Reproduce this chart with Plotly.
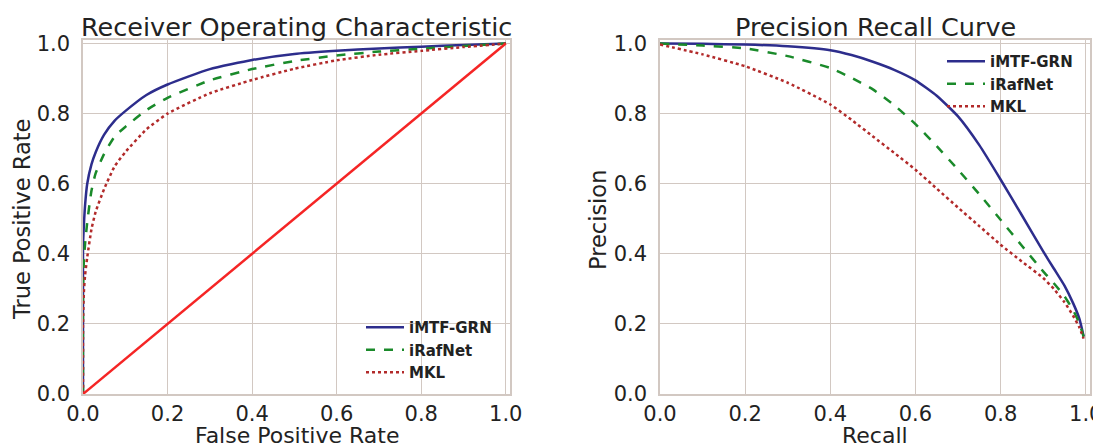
import plotly.graph_objects as go

# ---------------- data ----------------
roc_fpr = [0.0, 0.0, 0.002, 0.005, 0.01, 0.02, 0.03, 0.05, 0.075, 0.1, 0.15, 0.2,
           0.3, 0.4, 0.5, 0.6, 0.7, 0.8, 0.9, 1.0]
roc_imtf = [0.0, 0.42, 0.48, 0.54, 0.60, 0.655, 0.69, 0.74, 0.78, 0.807, 0.853, 0.883,
            0.927, 0.953, 0.970, 0.979, 0.986, 0.991, 0.996, 1.0]
roc_iraf = [0.0, 0.30, 0.38, 0.43, 0.49, 0.58, 0.63, 0.685, 0.735, 0.762, 0.81, 0.845,
            0.895, 0.927, 0.950, 0.966, 0.977, 0.985, 0.993, 1.0]
roc_mkl = [0.0, 0.20, 0.29, 0.34, 0.39, 0.47, 0.52, 0.585, 0.65, 0.69, 0.755, 0.80,
           0.858, 0.896, 0.928, 0.952, 0.968, 0.979, 0.99, 1.0]
chance = [0.0, 1.0]

pr_recall = [0.0, 0.1, 0.2, 0.3, 0.4, 0.45, 0.5, 0.55, 0.6, 0.65, 0.7, 0.75, 0.8,
             0.85, 0.9, 0.925, 0.95, 0.97, 0.985, 0.995]
pr_imtf = [1.0, 0.999, 0.997, 0.992, 0.981, 0.967, 0.948, 0.925, 0.895, 0.851, 0.792,
           0.710, 0.612, 0.510, 0.407, 0.358, 0.309, 0.260, 0.215, 0.165]
pr_iraf = [1.0, 0.994, 0.986, 0.964, 0.930, 0.902, 0.869, 0.824, 0.770, 0.707, 0.640,
           0.570, 0.497, 0.423, 0.350, 0.316, 0.279, 0.240, 0.202, 0.163]
pr_mkl = [0.997, 0.969, 0.935, 0.888, 0.826, 0.782, 0.735, 0.688, 0.640, 0.586, 0.532,
          0.479, 0.426, 0.378, 0.331, 0.300, 0.262, 0.224, 0.190, 0.158]

names = ["iMTF-GRN", "iRafNet", "MKL"]
x_ticks = [0.0, 0.2, 0.4, 0.6, 0.8, 1.0]
tick_text = ["0.0", "0.2", "0.4", "0.6", "0.8", "1.0"]

# ---------------- style ----------------
OFF = 8                      # default page body margin
W, H = 1101 - OFF, 448 - OFF
C_BLUE = "#2d2d8c"
C_GREEN = "#1a8a2a"
C_RED = "#b22a2a"
C_DIAG = "#f52525"
GRID = "#d2c8c2"
TXT = "#222222"
FONT = "DejaVu Sans"

def px_x(p):   # screen pixel -> paper fraction
    return (p - OFF) / W

def px_y(p):
    return 1 - (p - OFF) / H

fig = go.Figure()

styles = [(C_BLUE, "solid"), (C_GREEN, "dash"), (C_RED, "dot")]
for name, ys, (c, d) in zip(names, [roc_imtf, roc_iraf, roc_mkl], styles):
    fig.add_trace(go.Scatter(x=roc_fpr, y=ys, mode="lines", name=name,
                             line=dict(color=c, width=2.5, dash=d, shape="spline", smoothing=0.5),
                             xaxis="x", yaxis="y", legend="legend"))
fig.add_trace(go.Scatter(x=chance, y=chance, mode="lines", showlegend=False,
                         line=dict(color=C_DIAG, width=2.5), xaxis="x", yaxis="y"))

for name, ys, (c, d) in zip(names, [pr_imtf, pr_iraf, pr_mkl], styles):
    fig.add_trace(go.Scatter(x=pr_recall, y=ys, mode="lines", name=name,
                             line=dict(color=c, width=2.5, dash=d, shape="spline", smoothing=0.5),
                             xaxis="x2", yaxis="y2", legend="legend2"))

axis_common = dict(range=[0, 1.01], tickvals=x_ticks, ticktext=tick_text,
                   showgrid=True, gridcolor=GRID, gridwidth=1.2,
                   showline=True, linecolor=GRID, linewidth=1.5, mirror=True,
                   zeroline=False, ticks="", ticklen=0, automargin=False,
                   ticklabeloverflow="allow",
                   tickfont=dict(family=FONT, size=21, color=TXT))

PX0, PX1 = 83, 510
QX0, QX1 = 660, 1090
PY0, PY1 = 40, 394

fig.update_layout(
    width=W, height=H,
    margin=dict(l=0, r=0, t=0, b=0),
    paper_bgcolor="white", plot_bgcolor="white",
    xaxis=dict(domain=[px_x(PX0), px_x(PX1)], anchor="y", ticklabelstandoff=0, **axis_common),
    yaxis=dict(domain=[px_y(PY1), px_y(PY0)], anchor="x", ticklabelstandoff=7, **axis_common),
    xaxis2=dict(domain=[px_x(QX0), px_x(QX1)], anchor="y2", ticklabelstandoff=0, **axis_common),
    yaxis2=dict(domain=[px_y(PY1), px_y(PY0)], anchor="x2", ticklabelstandoff=7, **axis_common),
    legend=dict(x=px_x(361), y=px_y(311), xanchor="left", yanchor="top",
                bgcolor="rgba(255,255,255,0)", borderwidth=0, itemwidth=38,
                font=dict(family=FONT, size=15, color=TXT, weight="bold"),
                tracegroupgap=0),
    legend2=dict(x=px_x(942), y=px_y(45), xanchor="left", yanchor="top",
                 bgcolor="rgba(255,255,255,0)", borderwidth=0, itemwidth=38,
                 font=dict(family=FONT, size=15, color=TXT, weight="bold"),
                 tracegroupgap=0),
)

def ann(text, x, y, size, angle=0, anchor_y="middle"):
    return dict(text=text, x=px_x(x), y=px_y(y), xref="paper", yref="paper",
                xanchor="center", yanchor=anchor_y, textangle=angle, showarrow=False,
                font=dict(family=FONT, size=size, color=TXT))

fig.update_layout(annotations=[
    ann("Receiver Operating Characteristic", (PX0 + PX1) / 2, 27, 25.5),
    ann("Precision Recall Curve", (QX0 + QX1) / 2, 27, 25.5),
    ann("False Positive Rate", (PX0 + PX1) / 2, 435, 22),
    ann("Recall", (QX0 + QX1) / 2, 435, 22),
    ann("True Positive Rate", 22, 220, 22.5, angle=-90),
    ann("Precision", 598, 220, 22.5, angle=-90),
])

fig.write_html("out.html")
